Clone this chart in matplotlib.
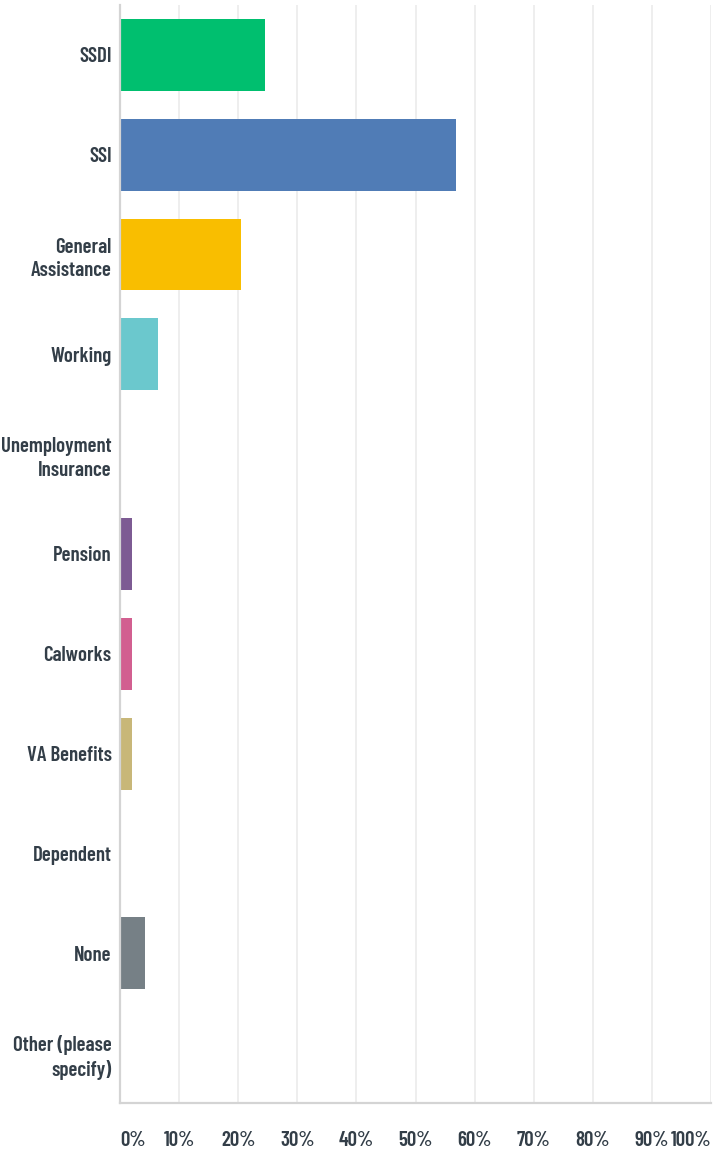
import matplotlib.pyplot as plt
from matplotlib import font_manager

# response options and share of respondents (%)
categories = ['SSDI', 'SSI', 'General\nAssistance', 'Working', 'Unemployment\nInsurance',
              'Pension', 'Calworks', 'VA Benefits', 'Dependent', 'None',
              'Other (please\nspecify)']
percent = [24.5, 56.9, 20.5, 6.4, 0.0, 2.0, 2.0, 2.0, 0.0, 4.3, 0.0]
colors = ['#00bf6f', '#507cb6', '#f9be00', '#6bc8cd', '#a7a7a7',
          '#7d5b93', '#d25f90', '#c8b778', '#999999', '#768086', '#cccccc']
ticks = list(range(0, 101, 10))
tick_labels = [f'{t}%' for t in ticks]

# the reference uses a narrow font, pick a condensed face if one is on the system
fonts = {f.fname.split('/')[-1]: f.fname for f in font_manager.fontManager.ttflist}
wanted = ['BarlowCondensed-SemiBold.ttf', 'BarlowCondensed-Medium.ttf',
          'AsapCondensed-Medium.ttf', 'BarlowCondensed-Regular.ttf']
path = next((fonts[w] for w in wanted if w in fonts), None)

text_color = '#333e48'
if path:
    fp = font_manager.FontProperties(fname=path, size=15)
else:
    fp = font_manager.FontProperties(family='DejaVu Sans', size=11)

fig = plt.figure(figsize=(7.15, 11.52), dpi=100)
ax = fig.add_axes([120 / 715, 49 / 1152, 591 / 715, 1098 / 1152])

y = list(range(len(categories)))
ax.barh(y, percent, height=0.72, color=colors, zorder=3)

ax.set_xlim(0, 100)
ax.set_ylim(len(categories) - 0.5, -0.5)
ax.set_xticks(ticks)
ax.set_xticklabels(tick_labels, fontproperties=fp, color=text_color)
lbls = ax.get_xticklabels()
lbls[0].set_ha('left')
lbls[-1].set_ha('right')
ax.set_yticks(y)
ax.set_yticklabels(categories, fontproperties=fp, color=text_color, linespacing=1.3)
ax.tick_params(axis='x', length=0, pad=20)
ax.tick_params(axis='y', length=0, pad=6)

ax.grid(axis='x', color='#ebebeb', linewidth=1.2, zorder=0)
for s in ['top', 'right']:
    ax.spines[s].set_visible(False)
for s in ['left', 'bottom']:
    ax.spines[s].set_color('#d4d4d4')
    ax.spines[s].set_linewidth(1.6)
    ax.spines[s].set_zorder(4)

fig.savefig('out.png', dpi=100)
